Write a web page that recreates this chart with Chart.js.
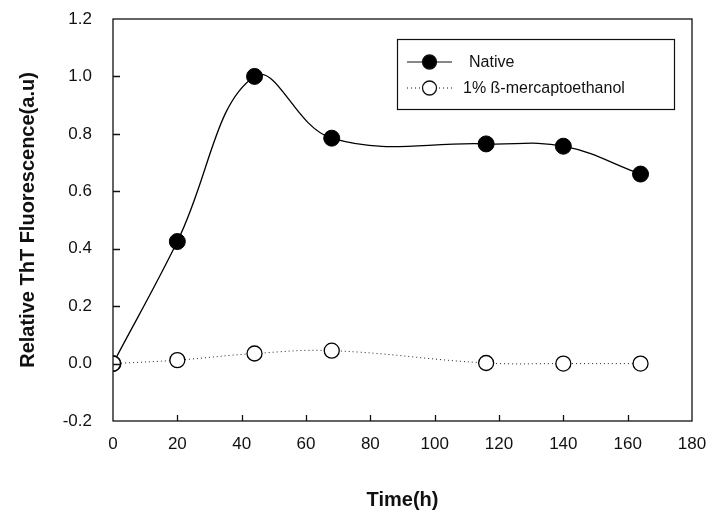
<!DOCTYPE html>
<html>
<head>
<meta charset="utf-8">
<script src="https://cdn.jsdelivr.net/npm/chart.js@4/dist/chart.umd.min.js"></script>
<style>
  html, body { margin: 0; padding: 0; background: #fff; }
  #wrap { width: 713px; height: 521px; }
</style>
</head>
<body>
<div id="wrap"><canvas id="c" width="713" height="521"></canvas></div>
<script>
// time points (h)
const hours = [0, 20, 44, 68, 116, 140, 164];
const nativeVals = [0.0, 0.425, 1.0, 0.785, 0.765, 0.757, 0.66];
const mercaptoVals = [0.0, 0.012, 0.035, 0.045, 0.002, 0.0, 0.0];
const seriesNames = ['Native', '1% ß-mercaptoethanol'];
const xTicks = [0, 20, 40, 60, 80, 100, 120, 140, 160, 180];
const yTicks = [-0.2, 0.0, 0.2, 0.4, 0.6, 0.8, 1.0, 1.2];

const toXY = (vals) => hours.map((h, i) => ({ x: h, y: vals[i] }));

// frame + inward ticks + legend box
const framePlugin = {
  id: 'frame',
  afterDraw(chart) {
    const { ctx, chartArea: a, scales } = chart;
    ctx.save();
    ctx.strokeStyle = '#111';
    ctx.lineWidth = 1.3;
    ctx.strokeRect(a.left, a.top, a.right - a.left, a.bottom - a.top);
    ctx.beginPath();
    xTicks.slice(1, -1).forEach(v => {
      const px = Math.round(scales.x.getPixelForValue(v)) + 0.5;
      ctx.moveTo(px, a.bottom);
      ctx.lineTo(px, a.bottom - 6);
    });
    yTicks.slice(1, -1).forEach(v => {
      const py = Math.round(scales.y.getPixelForValue(v)) + 0.5;
      ctx.moveTo(a.left, py);
      ctx.lineTo(a.left + 7, py);
    });
    ctx.stroke();

    // legend
    ctx.lineWidth = 1.2;
    ctx.strokeRect(397.5, 39.5, 277, 70);
    const rows = [
      { y: 62, dash: [], fill: '#000', label: seriesNames[0], tx: 469 },
      { y: 88, dash: [1, 3], fill: '#fff', label: seriesNames[1], tx: 463 }
    ];
    rows.forEach(r => {
      ctx.setLineDash(r.dash);
      ctx.lineWidth = 1;
      ctx.beginPath();
      ctx.moveTo(407, r.y);
      ctx.lineTo(452, r.y);
      ctx.stroke();
      ctx.setLineDash([]);
      ctx.beginPath();
      ctx.arc(429.5, r.y, 7, 0, Math.PI * 2);
      ctx.fillStyle = r.fill;
      ctx.fill();
      ctx.lineWidth = 1.3;
      ctx.stroke();
      ctx.fillStyle = '#111';
      ctx.font = '16px Arial, "Liberation Sans", sans-serif';
      ctx.textBaseline = 'middle';
      ctx.fillText(r.label, r.tx, r.y + 1);
    });
    ctx.restore();
  }
};

new Chart(document.getElementById('c').getContext('2d'), {
  type: 'scatter',
  data: {
    datasets: [
      {
        label: seriesNames[1],
        data: toXY(mercaptoVals),
        showLine: true,
        borderColor: '#222',
        borderWidth: 1,
        borderDash: [1, 3],
        tension: 0.4,
        pointRadius: 7.5,
        pointBackgroundColor: '#fff',
        pointBorderColor: '#000',
        pointBorderWidth: 1.3,
      },
      {
        label: seriesNames[0],
        data: toXY(nativeVals),
        showLine: true,
        borderColor: '#000',
        borderWidth: 1.3,
        tension: 0.4,
        pointRadius: 8,
        pointBackgroundColor: '#000',
        pointBorderColor: '#000',
        pointBorderWidth: 1,
      },
    ],
  },
  options: {
    responsive: false,
    animation: false,
    layout: { padding: { top: 19, right: 21, left: 0, bottom: 0 } },
    plugins: { legend: { display: false }, tooltip: { enabled: false } },
    scales: {
      x: {
        type: 'linear',
        min: 0,
        max: 180,
        afterBuildTicks: (s) => { s.ticks = xTicks.map(v => ({ value: v })); },
        afterFit: (s) => { s.height = 100; s.paddingLeft = 0; s.paddingRight = 0; },
        grid: { display: false, drawTicks: false },
        border: { display: false },
        ticks: {
          padding: 13,
          color: '#111',
          font: { family: 'Arial, "Liberation Sans", sans-serif', size: 17 },
          maxRotation: 0,
        },
        title: {
          display: true,
          text: 'Time(h)',
          color: '#111',
          font: { family: 'Arial, "Liberation Sans", sans-serif', size: 20, weight: 'bold' },
          padding: { top: 0, bottom: 9 },
        },
      },
      y: {
        min: -0.2,
        max: 1.2,
        afterBuildTicks: (s) => { s.ticks = yTicks.map(v => ({ value: v })); },
        afterFit: (s) => { s.width = 113; s.paddingTop = 0; s.paddingBottom = 0; },
        grid: { display: false, drawTicks: false },
        border: { display: false },
        ticks: {
          padding: 21,
          color: '#111',
          font: { family: 'Arial, "Liberation Sans", sans-serif', size: 17 },
          callback: (v) => Number(v).toFixed(1),
        },
        title: {
          display: true,
          text: 'Relative ThT Fluorescence(a.u)',
          color: '#111',
          font: { family: 'Arial, "Liberation Sans", sans-serif', size: 20, weight: 'bold' },
          padding: { top: 16, bottom: 0 },
        },
      },
    },
  },
  plugins: [framePlugin],
});
</script>
</body>
</html>
